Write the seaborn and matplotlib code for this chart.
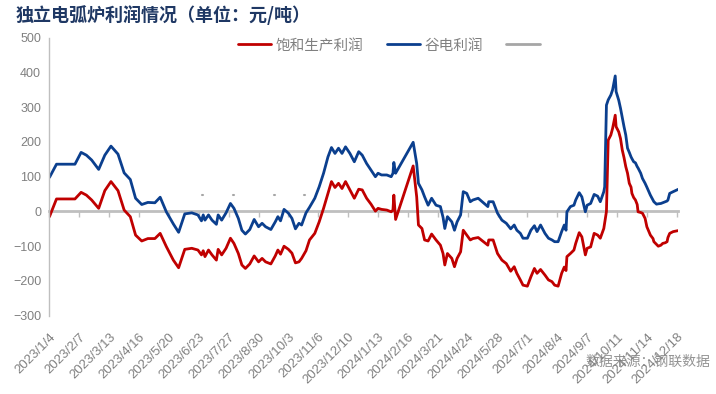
import pandas as pd
import numpy as np
import seaborn as sns
import matplotlib.pyplot as plt
from matplotlib.lines import Line2D

# dates of the observations
dates = [
    '2023-01-04', '2023-01-12', '2023-02-02', '2023-02-09', '2023-02-15', '2023-02-21',
    '2023-03-01', '2023-03-08', '2023-03-15', '2023-03-23', '2023-03-30', '2023-04-06',
    '2023-04-12', '2023-04-19', '2023-04-26', '2023-05-04', '2023-05-10', '2023-05-17',
    '2023-05-25', '2023-05-31', '2023-06-07', '2023-06-15', '2023-06-22', '2023-06-26',
    '2023-06-28', '2023-06-30', '2023-07-04', '2023-07-08', '2023-07-13', '2023-07-15',
    '2023-07-19', '2023-07-24', '2023-07-29', '2023-08-02', '2023-08-07', '2023-08-11',
    '2023-08-15', '2023-08-20', '2023-08-25', '2023-08-30', '2023-09-03', '2023-09-07',
    '2023-09-13', '2023-09-18', '2023-09-21', '2023-09-24', '2023-09-28', '2023-10-03',
    '2023-10-07', '2023-10-11', '2023-10-15', '2023-10-18', '2023-10-23', '2023-10-27',
    '2023-11-02', '2023-11-07', '2023-11-12', '2023-11-17', '2023-11-21', '2023-11-25',
    '2023-11-29', '2023-12-03', '2023-12-07', '2023-12-12', '2023-12-17', '2023-12-22',
    '2023-12-26', '2023-12-31', '2024-01-05', '2024-01-10', '2024-01-13', '2024-01-17',
    '2024-01-23', '2024-01-28', '2024-01-30', '2024-01-31', '2024-02-02', '2024-02-22',
    '2024-02-26', '2024-02-28', '2024-03-03', '2024-03-06', '2024-03-10', '2024-03-14',
    '2024-03-19', '2024-03-24', '2024-03-27', '2024-03-29', '2024-04-01', '2024-04-06',
    '2024-04-09', '2024-04-12', '2024-04-16', '2024-04-19', '2024-04-23', '2024-04-27',
    '2024-04-30', '2024-05-06', '2024-05-12', '2024-05-17', '2024-05-18', '2024-05-23',
    '2024-05-28', '2024-06-02', '2024-06-07', '2024-06-12', '2024-06-16', '2024-06-19',
    '2024-06-23', '2024-06-26', '2024-07-01', '2024-07-05', '2024-07-09', '2024-07-12',
    '2024-07-16', '2024-07-21', '2024-07-25', '2024-07-29', '2024-08-01', '2024-08-05',
    '2024-08-09', '2024-08-12', '2024-08-14', '2024-08-15', '2024-08-19', '2024-08-23',
    '2024-08-25', '2024-08-29', '2024-09-01', '2024-09-05', '2024-09-07', '2024-09-11',
    '2024-09-15', '2024-09-19', '2024-09-22', '2024-09-26', '2024-09-27', '2024-09-29',
    '2024-10-01', '2024-10-04', '2024-10-06', '2024-10-09', '2024-10-10', '2024-10-13',
    '2024-10-15', '2024-10-17', '2024-10-19', '2024-10-21', '2024-10-23', '2024-10-25',
    '2024-10-27', '2024-10-28', '2024-10-30', '2024-11-01', '2024-11-03', '2024-11-04',
    '2024-11-07', '2024-11-09', '2024-11-12', '2024-11-14', '2024-11-18', '2024-11-21',
    '2024-11-22', '2024-11-25', '2024-11-27', '2024-11-30', '2024-12-02', '2024-12-05',
    '2024-12-07', '2024-12-08', '2024-12-10', '2024-12-14', '2024-12-20',
]

# 谷电利润 (blue)
valley_profit = [
    98, 136, 136, 170, 162, 148,
    121, 162, 188, 165, 111, 92,
    38, 20, 26, 25, 41, -1,
    -36, -60, -7, -4, -10, -27,
    -10, -25, -10, -25, -37, -10,
    -25, -4, 23, 9, -20, -54,
    -65, -52, -23, -44, -34, -44,
    -52, -30, -15, -27, 6, -5,
    -20, -50, -34, -39, -4, 12,
    38, 71, 110, 157, 184, 167,
    182, 167, 186, 167, 143, 172,
    162, 138, 119, 100, 110, 105,
    105, 100, 110, 141, 110, 199,
    138, 81, 62, 42, 18, 38,
    18, 14, -17, -49, -15, -30,
    -54, -30, -10, 57, 52, 28,
    33, 38, 25, 14, 28, 28,
    -5, -25, -34, -50, -39, -54,
    -63, -77, -77, -54, -41, -58,
    -39, -63, -77, -82, -87, -87,
    -58, -39, -54, -1, 14, 18,
    33, 54, 42, -1, 18, 23,
    49, 44, 28, 57, 71, 306,
    321, 335, 350, 390, 345, 320,
    297, 270, 244, 220, 182, 170,
    157, 152, 143, 140, 129, 125,
    110, 95, 81, 70, 47, 33,
    28, 21, 22, 23, 25, 28,
    30, 33, 52, 57, 64,
]

# 饱和生产利润 (red)
full_profit = [
    -15, 36, 36, 55, 47, 33,
    9, 60, 86, 60, 4, -15,
    -68, -85, -78, -78, -63, -101,
    -140, -162, -109, -106, -111, -125,
    -113, -130, -111, -125, -140, -109,
    -125, -106, -77, -92, -121, -154,
    -164, -151, -128, -145, -135, -145,
    -151, -128, -111, -123, -100, -109,
    -120, -148, -145, -135, -113, -82,
    -63, -30, 9, 52, 86, 69,
    81, 66, 86, 62, 38, 64,
    62, 38, 21, 1, 9, 6,
    4, -1, 4, 47, -23, 131,
    42, -39, -49, -82, -85, -65,
    -82, -97, -121, -154, -121, -135,
    -159, -135, -116, -54, -68, -82,
    -78, -75, -87, -97, -82, -82,
    -121, -140, -150, -172, -159, -178,
    -197, -212, -215, -188, -164, -178,
    -167, -183, -197, -202, -212, -215,
    -178, -160, -170, -130, -121, -111,
    -92, -61, -73, -125, -106, -102,
    -63, -68, -77, -49, -33, 0,
    205, 220, 239, 277, 244, 229,
    210, 177, 155, 129, 110, 81,
    70, 52, 40, 33, 20, -1,
    -3, -5, -20, -44, -68, -78,
    -87, -95, -100, -97, -92, -90,
    -87, -75, -63, -58, -55,
]

# third (unnamed) series: only a few isolated values
gray_dates = ['2023-06-27', '2023-06-28', '2023-07-12', '2023-07-13', '2023-08-01', '2023-08-02',
              '2023-09-17', '2023-09-18', '2023-10-21', '2023-10-22']
gray_values = [47, 47, 47, 47, 47, 47, 47, 47, 47, 47]
gray_groups = [0, 0, 1, 1, 2, 2, 3, 3, 4, 4]

tick_labels = ['2023/1/4', '2023/2/7', '2023/3/13', '2023/4/16', '2023/5/20', '2023/6/23',
               '2023/7/27', '2023/8/30', '2023/10/3', '2023/11/6', '2023/12/10', '2024/1/13',
               '2024/2/16', '2024/3/21', '2024/4/24', '2024/5/28', '2024/7/1', '2024/8/4',
               '2024/9/7', '2024/10/11', '2024/11/14', '2024/12/18']

series_names = ['饱和生产利润', '谷电利润', '']
red = '#C00000'
blue = '#0B3F8E'
grey = '#A6A6A6'
axis_grey = '#BFBFBF'
text_grey = '#808080'

df = pd.DataFrame({'date': pd.to_datetime(dates), 'full': full_profit, 'valley': valley_profit})
gray_df = pd.DataFrame({'date': pd.to_datetime(gray_dates), 'val': gray_values, 'grp': gray_groups})

sns.set_style('white')
plt.rcParams['font.family'] = ['Liberation Sans', 'Noto Sans CJK SC', 'DejaVu Sans']

fig = plt.figure(figsize=(7.16, 3.94), dpi=100)
ax = fig.add_axes([0.0691, 0.1987, 0.8785, 0.7056])

sns.lineplot(data=df, x='date', y='full', color=red, lw=2, ax=ax, legend=False)
sns.lineplot(data=df, x='date', y='valley', color=blue, lw=2, ax=ax, legend=False)
sns.lineplot(data=gray_df, x='date', y='val', units='grp', estimator=None, color=grey, lw=1.5,
             ax=ax, legend=False)

ax.set_xlim(pd.Timestamp('2023-01-04'), pd.Timestamp('2024-12-20'))
ax.set_ylim(-300, 500)
ax.set_yticks(range(-300, 501, 100))
ax.set_xlabel('')
ax.set_ylabel('')

for s in ['top', 'right', 'bottom']:
    ax.spines[s].set_visible(False)
ax.spines['left'].set_color(axis_grey)
ax.spines['left'].set_linewidth(1)
ax.tick_params(axis='y', direction='out', length=4, width=1, color=axis_grey,
               labelcolor=text_grey, labelsize=9, pad=2)

tick_dates = pd.to_datetime(tick_labels, format='%Y/%m/%d')
ax.set_xticks(tick_dates)
ax.set_xticklabels(tick_labels, rotation=45, ha='right', va='top', rotation_mode='anchor')
ax.tick_params(axis='x', length=0, labelcolor=text_grey, labelsize=9.5, pad=11)

# zero line with its tick marks
zero_pos = (0 - (-300)) / 800
sec = ax.secondary_xaxis(zero_pos)
sec.set_xticks(tick_dates)
sec.set_xticklabels([])
sec.tick_params(axis='x', direction='out', length=4, width=1, color=axis_grey)
sec.spines['bottom'].set_color(axis_grey)
sec.spines['bottom'].set_linewidth(2)

handles = [Line2D([], [], color=red, lw=2), Line2D([], [], color=blue, lw=2),
           Line2D([], [], color=grey, lw=2)]
ax.legend(handles, series_names, ncol=3, loc='center', bbox_to_anchor=(0.543, 0.972),
          frameon=False, fontsize=10.5, labelcolor=text_grey, handlelength=2.3,
          handletextpad=0.3, columnspacing=1.6)

fig.text(16 / 716, 1 - 15 / 394, '独立电弧炉利润情况（单位：元/吨）', fontsize=13,
         fontweight='heavy', color='#1F3864', ha='left', va='center',
         family=['Noto Sans CJK SC', 'DejaVu Sans'])
fig.text(710 / 716, 1 - 362 / 394, '数据来源：钢联数据', fontsize=10, color=text_grey,
         alpha=0.85, ha='right', va='center', family=['Noto Sans CJK SC', 'DejaVu Sans'])

fig.savefig('out.png', dpi=100)
